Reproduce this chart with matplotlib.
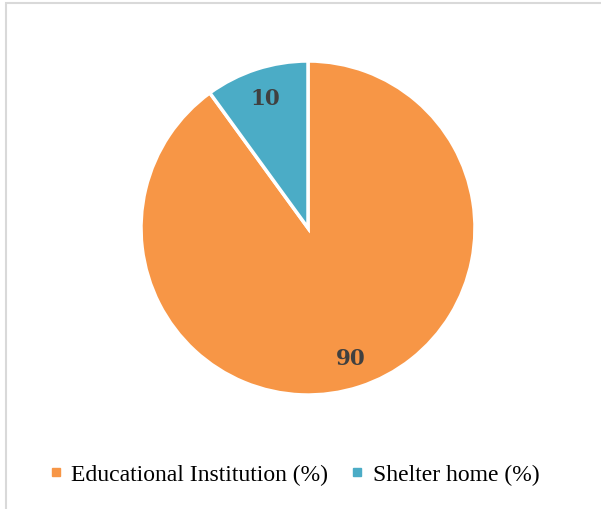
import matplotlib.pyplot as plt
from matplotlib.lines import Line2D
from matplotlib.patches import Rectangle

labels = ['Educational Institution (%)', 'Shelter home (%)']
values = [90, 10]
colors = ['#F79646', '#4BACC6']

W, H = 601, 510
fig = plt.figure(figsize=(W / 100, H / 100), dpi=100)

# light grey frame around the chart area
fig.patches.append(Rectangle((6 / W, -0.01), 1.0, (H - 4) / H + 0.01,
                             transform=fig.transFigure, fill=False,
                             edgecolor='#d9d9d9', linewidth=1.5))

cx, cy, r = 308, 229, 167
ax = fig.add_axes([(cx - r) / W, (H - cy - r) / H, 2 * r / W, 2 * r / H])
wedges, texts = ax.pie(values, colors=colors, startangle=90, counterclock=False,
                       labels=[str(v) for v in values], labeldistance=0.82,
                       wedgeprops=dict(edgecolor='white', linewidth=2.5),
                       textprops=dict(fontsize=15.5, fontweight='bold',
                                      color='#404040', family='DejaVu Serif',
                                      ha='center', va='center'))
ax.set_xlim(-1, 1)
ax.set_ylim(-1, 1)

handles = [Line2D([], [], linestyle='none', marker='s', markersize=5.5,
                  color=c) for c in colors]
fig.legend(handles, labels, loc='center', bbox_to_anchor=(0.49, 0.068),
           ncol=2, frameon=False, handlelength=0.5, handletextpad=0.4,
           columnspacing=1.0,
           prop=dict(family='Liberation Serif', size=17))

fig.savefig('out.png', dpi=100)
